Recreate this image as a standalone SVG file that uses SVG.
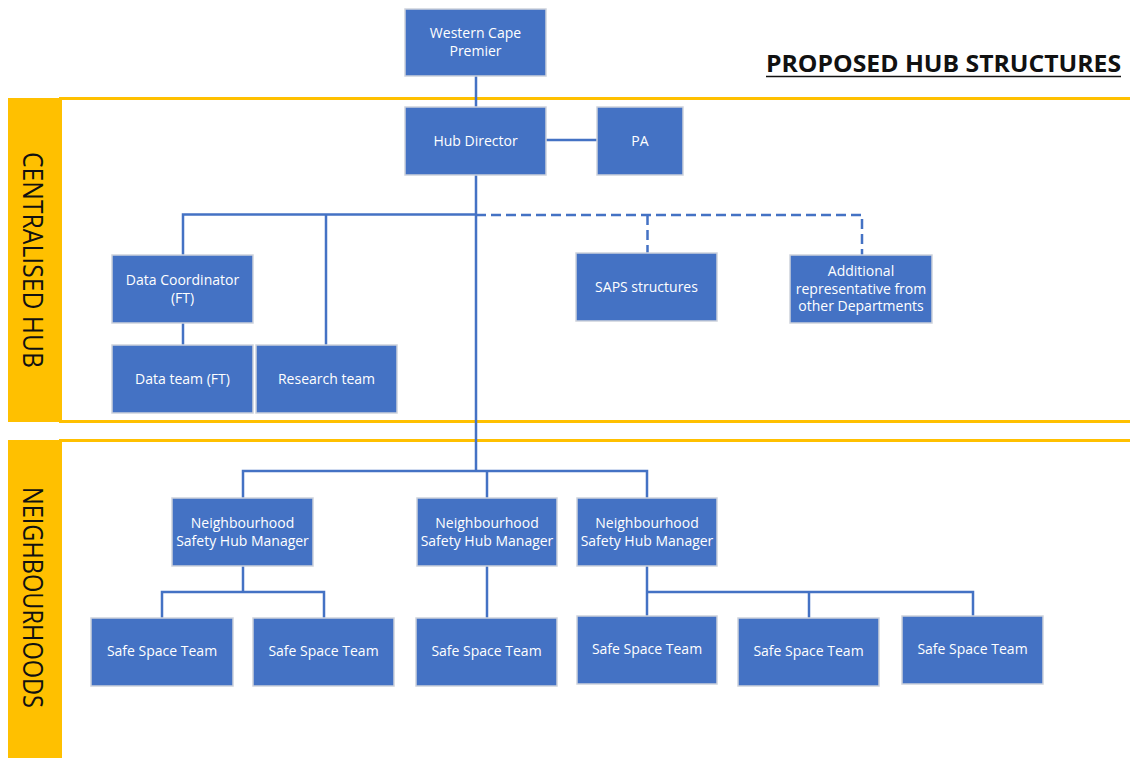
<svg xmlns="http://www.w3.org/2000/svg" width="1130" height="758" viewBox="0 0 1130 758">
  <style>
    .band { fill: #FFC000; }
    .rule { stroke: #FFC000; stroke-width: 3; fill: none; }
    .band-label { font-family: "Open Sans", "Liberation Sans", sans-serif; font-size: 27px; fill: #111111; text-anchor: middle; }
    .title { font-family: "Open Sans", "Liberation Sans", sans-serif; font-size: 24px; font-weight: bold; fill: #111111; }
    .box { fill: #4472C4; stroke: #CDD2DB; stroke-width: 1.5; }
    .label { font-family: "Open Sans", "Liberation Sans", sans-serif; font-size: 14px; fill: #FFFFFF; text-anchor: middle; }
    .link { stroke: #4472C4; stroke-width: 2.5; fill: none; }
    .dashed { stroke: #4472C4; stroke-width: 2.5; fill: none; stroke-dasharray: 10 5; }
  </style>

  <rect width="1130" height="758" fill="#FFFFFF"/>

  <!-- Section bands -->
  <g id="band-centralised">
    <rect class="band" x="8" y="98" width="54" height="324"/>
    <line class="rule" x1="59" y1="98.5" x2="1130" y2="98.5"/>
    <line class="rule" x1="59" y1="421.5" x2="1130" y2="421.5"/>
    <text class="band-label" transform="translate(23,260) rotate(90)" textLength="216" lengthAdjust="spacingAndGlyphs">CENTRALISED HUB</text>
  </g>
  <g id="band-neighbourhoods">
    <rect class="band" x="8" y="440" width="54" height="318"/>
    <line class="rule" x1="59" y1="440.5" x2="1130" y2="440.5"/>
    <text class="band-label" transform="translate(23,597.5) rotate(90)" textLength="221" lengthAdjust="spacingAndGlyphs">NEIGHBOURHOODS</text>
  </g>

  <!-- Heading -->
  <g id="heading">
    <text class="title" x="766" y="72" textLength="355" lengthAdjust="spacingAndGlyphs">PROPOSED HUB STRUCTURES</text>
    <line x1="766" y1="76.5" x2="1121" y2="76.5" stroke="#111111" stroke-width="1.6"/>
  </g>

  <!-- Connectors -->
  <g id="connectors">
    <line class="link" x1="476" y1="76" x2="476" y2="471"/>
    <line class="link" x1="546" y1="140" x2="597" y2="140"/>
    <polyline class="link" points="183,255 183,214.5 476,214.5"/>
    <line class="link" x1="326" y1="214.5" x2="326" y2="345"/>
    <line class="link" x1="183" y1="323" x2="183" y2="345"/>
    <polyline class="dashed" points="476,215 862,215 862,255"/>
    <line class="dashed" x1="647.5" y1="215" x2="647.5" y2="253"/>

    <polyline class="link" points="243,498 243,471 647,471 647,498"/>
    <line class="link" x1="487" y1="471" x2="487" y2="498"/>

    <line class="link" x1="243" y1="566" x2="243" y2="592"/>
    <polyline class="link" points="162,618 162,592 324,592 324,618"/>
    <line class="link" x1="487" y1="566" x2="487" y2="618"/>
    <line class="link" x1="647" y1="566" x2="647" y2="616"/>
    <polyline class="link" points="647,592 973,592 973,616"/>
    <line class="link" x1="809" y1="592" x2="809" y2="618"/>
  </g>

  <!-- Nodes -->
  <g id="premier">
    <rect class="box" x="405" y="9" width="141" height="67"/>
    <text class="label" x="475.5" y="38">Western Cape</text>
    <text class="label" x="475.5" y="56">Premier</text>
  </g>
  <g id="hub-director">
    <rect class="box" x="405" y="107" width="141" height="68"/>
    <text class="label" x="475.5" y="145.5">Hub Director</text>
  </g>
  <g id="pa">
    <rect class="box" x="597" y="107" width="86" height="68"/>
    <text class="label" x="640" y="145.5">PA</text>
  </g>
  <g id="data-coordinator">
    <rect class="box" x="112" y="255" width="141" height="68"/>
    <text class="label" x="182.5" y="285">Data Coordinator</text>
    <text class="label" x="182.5" y="303">(FT)</text>
  </g>
  <g id="data-team">
    <rect class="box" x="112" y="345" width="141" height="68"/>
    <text class="label" x="182.5" y="384">Data team (FT)</text>
  </g>
  <g id="research-team">
    <rect class="box" x="256" y="345" width="141" height="68"/>
    <text class="label" x="326.5" y="384">Research team</text>
  </g>
  <g id="saps-structures">
    <rect class="box" x="576" y="253" width="141" height="68"/>
    <text class="label" x="646.5" y="292">SAPS structures</text>
  </g>
  <g id="other-departments">
    <rect class="box" x="790" y="255" width="142" height="68"/>
    <text class="label" x="861" y="276">Additional</text>
    <text class="label" x="861" y="293.5">representative from</text>
    <text class="label" x="861" y="311">other Departments</text>
  </g>

  <g id="manager-1">
    <rect class="box" x="172" y="498" width="141" height="68"/>
    <text class="label" x="242.5" y="528">Neighbourhood</text>
    <text class="label" x="242.5" y="546">Safety Hub Manager</text>
  </g>
  <g id="manager-2">
    <rect class="box" x="417" y="498" width="140" height="68"/>
    <text class="label" x="487" y="528">Neighbourhood</text>
    <text class="label" x="487" y="546">Safety Hub Manager</text>
  </g>
  <g id="manager-3">
    <rect class="box" x="577" y="498" width="140" height="68"/>
    <text class="label" x="647" y="528">Neighbourhood</text>
    <text class="label" x="647" y="546">Safety Hub Manager</text>
  </g>

  <g id="team-1">
    <rect class="box" x="91" y="618" width="142" height="68"/>
    <text class="label" x="162" y="656">Safe Space Team</text>
  </g>
  <g id="team-2">
    <rect class="box" x="253" y="618" width="141" height="68"/>
    <text class="label" x="323.5" y="656">Safe Space Team</text>
  </g>
  <g id="team-3">
    <rect class="box" x="416" y="618" width="141" height="68"/>
    <text class="label" x="486.5" y="656">Safe Space Team</text>
  </g>
  <g id="team-4">
    <rect class="box" x="577" y="616" width="140" height="68"/>
    <text class="label" x="647" y="654">Safe Space Team</text>
  </g>
  <g id="team-5">
    <rect class="box" x="738" y="618" width="141" height="68"/>
    <text class="label" x="808.5" y="656">Safe Space Team</text>
  </g>
  <g id="team-6">
    <rect class="box" x="902" y="616" width="141" height="68"/>
    <text class="label" x="972.5" y="654">Safe Space Team</text>
  </g>
</svg>
